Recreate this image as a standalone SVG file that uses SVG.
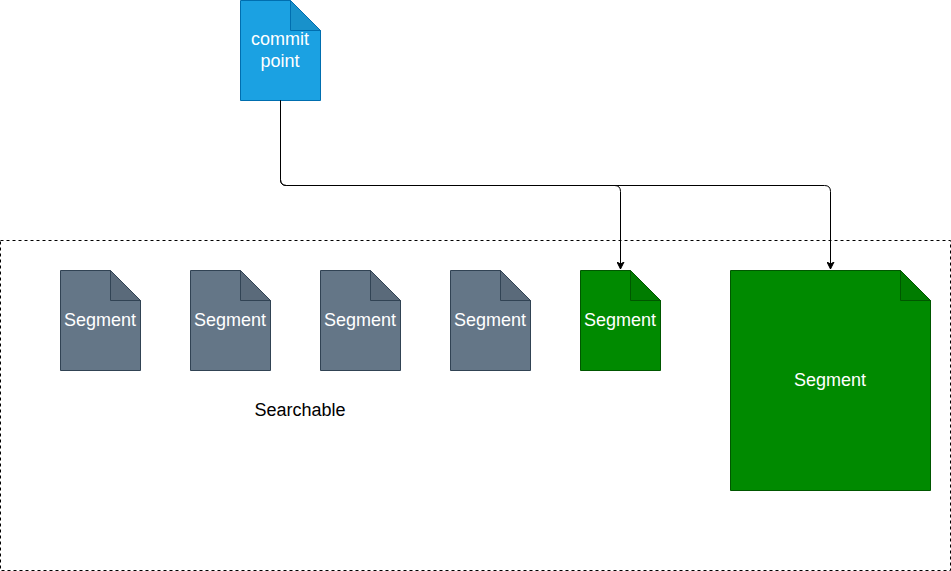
<svg xmlns="http://www.w3.org/2000/svg" width="951" height="571" viewBox="0 0 951 571">
<defs>
<style>
.lbl{font-family:"Liberation Sans",Arial,sans-serif;font-size:18px;text-anchor:middle;dominant-baseline:central}
.w{fill:#ffffff}
.b{fill:#000000}
.grey .body{fill:#647687;stroke:#314354}
.grey .fold{fill:#5a6a7a;stroke:#314354}
.green .body{fill:#008a00;stroke:#005700}
.green .fold{fill:#007c00;stroke:#005700}
.blue .body{fill:#1ba1e2;stroke:#006eaf}
.blue .fold{fill:#1891cb;stroke:#006eaf}
.edge{fill:none;stroke:#000;stroke-width:1}
</style>
<marker id="arr" markerWidth="8" markerHeight="8" viewBox="0 0 8 8" refX="7" refY="4" orient="auto" markerUnits="userSpaceOnUse">
<path d="M0,0.5 L7,4 L0,7.5 L2,4 Z" fill="#000" stroke="#000" stroke-width="1"/>
</marker>
</defs>
<rect id="searchable" x="0.5" y="240.5" width="950" height="330" fill="none" stroke="#000" stroke-dasharray="3,3"/>
<text class="lbl b" x="300" y="410">Searchable</text>
<g id="commit-point" class="blue">
<path class="body" d="M240.5,0.5 H290.5 L320.5,30.5 V100.5 H240.5 Z"/>
<path class="fold" d="M290.5,0.5 V30.5 H320.5 Z"/>
<text class="lbl w" x="280" y="39">commit</text>
<text class="lbl w" x="280" y="61">point</text>
</g>
<g id="seg1" class="grey">
<path class="body" d="M60.5,270.5 H110.5 L140.5,300.5 V370.5 H60.5 Z"/>
<path class="fold" d="M110.5,270.5 V300.5 H140.5 Z"/>
<text class="lbl w" x="100" y="320">Segment</text>
</g>
<g id="seg2" class="grey">
<path class="body" d="M190.5,270.5 H240.5 L270.5,300.5 V370.5 H190.5 Z"/>
<path class="fold" d="M240.5,270.5 V300.5 H270.5 Z"/>
<text class="lbl w" x="230" y="320">Segment</text>
</g>
<g id="seg3" class="grey">
<path class="body" d="M320.5,270.5 H370.5 L400.5,300.5 V370.5 H320.5 Z"/>
<path class="fold" d="M370.5,270.5 V300.5 H400.5 Z"/>
<text class="lbl w" x="360" y="320">Segment</text>
</g>
<g id="seg4" class="grey">
<path class="body" d="M450.5,270.5 H500.5 L530.5,300.5 V370.5 H450.5 Z"/>
<path class="fold" d="M500.5,270.5 V300.5 H530.5 Z"/>
<text class="lbl w" x="490" y="320">Segment</text>
</g>
<g id="seg5" class="green">
<path class="body" d="M580.5,270.5 H630.5 L660.5,300.5 V370.5 H580.5 Z"/>
<path class="fold" d="M630.5,270.5 V300.5 H660.5 Z"/>
<text class="lbl w" x="620" y="320">Segment</text>
</g>
<g id="seg6" class="green">
<path class="body" d="M730.5,270.5 H900.5 L930.5,300.5 V490.5 H730.5 Z"/>
<path class="fold" d="M900.5,270.5 V300.5 H930.5 Z"/>
<text class="lbl w" x="830" y="380">Segment</text>
</g>
<g id="connectors">
<path class="edge" d="M280.5,100.5 V179.5 Q280.5,185.5 286.5,185.5 H614.5 Q620.5,185.5 620.5,191.5 V269" marker-end="url(#arr)"/>
<path class="edge" d="M280.5,100.5 V179.5 Q280.5,185.5 286.5,185.5 H824.5 Q830.5,185.5 830.5,191.5 V269" marker-end="url(#arr)"/>
</g>
</svg>
